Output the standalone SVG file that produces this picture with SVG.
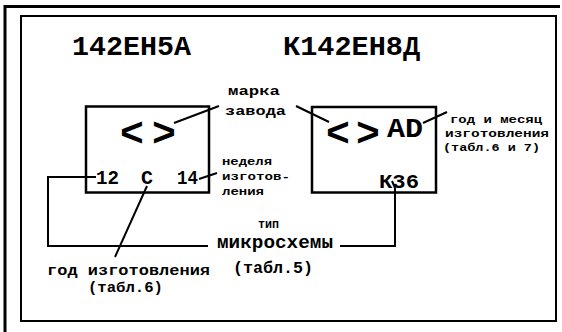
<svg xmlns="http://www.w3.org/2000/svg" width="562" height="332" viewBox="0 0 562 332">
<style>
.frame{fill:none;stroke:#000}
.box{fill:none;stroke:#000;stroke-width:2.5}
.ln{fill:none;stroke:#000;stroke-width:2}
text{font-family:"Liberation Mono","Courier New",monospace;font-weight:bold;fill:#000}
.big{font-size:28px}
.sym{font-family:"Liberation Sans",Arial,sans-serif;font-size:40px;text-anchor:middle}
.code{font-size:20px}
.lbl{font-size:13px}
.sm{font-size:10px}
</style>
<rect width="562" height="332" fill="#fff"/>
<g id="frames">
<path class="frame" d="M5,332 V6.5 H560" stroke-width="3"/>
<rect class="frame" x="21" y="16" width="535" height="305" stroke-width="2"/>
</g>
<g id="title-left"><text class="big" x="72" y="55" textLength="119" lengthAdjust="spacingAndGlyphs">142ЕН5А</text></g>
<g id="title-right"><text class="big" x="283" y="55" textLength="137" lengthAdjust="spacingAndGlyphs">К142ЕН8Д</text></g>
<g id="chip-left">
<rect class="box" x="86" y="106.5" width="123" height="86"/>
<text class="sym" x="132" y="146">&lt;</text>
<text class="sym" x="164" y="146">&gt;</text>
<text class="code" x="96" y="184" textLength="23" lengthAdjust="spacingAndGlyphs">12</text>
<text class="code" x="141" y="184" textLength="12" lengthAdjust="spacingAndGlyphs">C</text>
<text class="code" x="177" y="184" textLength="21" lengthAdjust="spacingAndGlyphs">14</text>
</g>
<g id="chip-right">
<rect class="box" x="312" y="107" width="124" height="85.5"/>
<text class="sym" x="338" y="146">&lt;</text>
<text class="sym" x="368" y="146">&gt;</text>
<text x="387" y="137" font-size="27" textLength="36" lengthAdjust="spacingAndGlyphs">AD</text>
<text x="379" y="188" font-size="21" textLength="40" lengthAdjust="spacingAndGlyphs">К36</text>
</g>
<g id="label-marka">
<text class="lbl" x="228" y="95" textLength="52" lengthAdjust="spacingAndGlyphs">марка</text>
<text class="lbl" x="225" y="115" textLength="61" lengthAdjust="spacingAndGlyphs">завода</text>
</g>
<g id="label-week">
<text class="sm" x="222" y="165" font-size="11" textLength="50" lengthAdjust="spacingAndGlyphs">неделя</text>
<text class="sm" x="222" y="180" font-size="11" textLength="68" lengthAdjust="spacingAndGlyphs">изготов-</text>
<text class="sm" x="222" y="195" font-size="11" textLength="42" lengthAdjust="spacingAndGlyphs">ления</text>
</g>
<g id="label-year-month">
<text class="sm" x="450" y="123" textLength="92" lengthAdjust="spacingAndGlyphs">год и месяц</text>
<text class="sm" x="445" y="137" textLength="104" lengthAdjust="spacingAndGlyphs">изготовления</text>
<text class="sm" x="443" y="151" textLength="97" lengthAdjust="spacingAndGlyphs">(табл.6 и 7)</text>
</g>
<g id="label-type">
<text x="258" y="228" font-size="12" textLength="21" lengthAdjust="spacingAndGlyphs">тип</text>
<text x="217" y="248" font-size="19" textLength="116" lengthAdjust="spacingAndGlyphs">микросхемы</text>
<text x="233" y="273" font-size="17" textLength="80" lengthAdjust="spacingAndGlyphs">(табл.5)</text>
</g>
<g id="label-year">
<text x="47" y="275" font-size="14" textLength="163" lengthAdjust="spacingAndGlyphs">год изготовления</text>
<text x="88" y="292" font-size="15" textLength="75" lengthAdjust="spacingAndGlyphs">(табл.6)</text>
</g>
<g id="connectors">
<path class="ln" d="M174,123 L219,106"/>
<path class="ln" d="M296,106 L329,122"/>
<path class="ln" d="M423,123 L447,112"/>
<path class="ln" d="M199,179 L217,173"/>
<path class="ln" d="M96,177 H48 V246 H208"/>
<path class="ln" d="M147,186 L115,257"/>
<path class="ln" d="M392,181 L395,188 V246 H340"/>
</g>
</svg>
